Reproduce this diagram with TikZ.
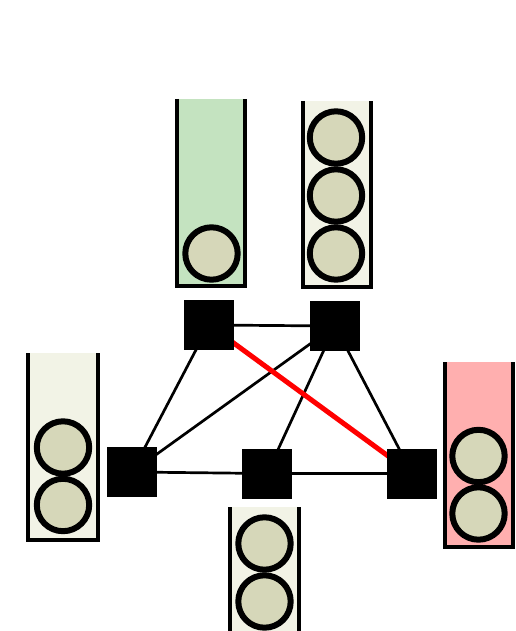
\documentclass[tikz,border=0pt]{standalone}
\usetikzlibrary{backgrounds}
\definecolor{tubegreen}{HTML}{C4E3C0}
\definecolor{tubebeige}{HTML}{F2F3E6}
\definecolor{tubered}{HTML}{FFAFAF}
\definecolor{ballfill}{HTML}{D6D7B9}
\begin{document}
\begin{tikzpicture}[x=1pt,y=-1pt,
  sq/.style={rectangle,fill=black,minimum size=50pt,inner sep=0pt},
  ball/.style={circle,draw=black,fill=ballfill,line width=6pt,minimum size=52.4pt,inner sep=0pt},
  wall/.style={draw=black,line width=4pt},
  edge/.style={black,line width=2.7pt},
  redge/.style={red,line width=5pt}]
\useasboundingbox (0,0) rectangle (515,631);
% tubes
\fill[tubegreen] (177,99) rectangle (245,285.5);
\draw[wall] (177,99) -- (177,285.5) -- (245,285.5) -- (245,99);
\fill[tubebeige] (302.5,101) rectangle (371,287);
\draw[wall] (302.5,101) -- (302.5,287) -- (371,287) -- (371,101);
\fill[tubebeige] (28,353) rectangle (97.5,539.5);
\draw[wall] (28,353) -- (28,539.5) -- (97.5,539.5) -- (97.5,353);
\fill[tubebeige] (230,507) rectangle (299,640);
\draw[wall] (230,507) -- (230,640);
\draw[wall] (299,507) -- (299,640);
\fill[tubered] (444.5,362) rectangle (512.5,547);
\draw[wall] (444.5,362) -- (444.5,547) -- (512.5,547) -- (512.5,362);
% balls
\node[ball] (g1) at (211.5,253.5) {};
\node[ball] (b1) at (336,137.5) {};
\node[ball] (b2) at (336,195.5) {};
\node[ball] (b3) at (336,253.5) {};
\node[ball] (l1) at (63,447.5) {};
\node[ball] (l2) at (63,505) {};
\node[ball] (m1) at (264.5,543.5) {};
\node[ball] (m2) at (264.5,601.5) {};
\node[ball] (r1) at (478.5,456) {};
\node[ball] (r2) at (478.5,513.5) {};
% squares
\node[sq] (A) at (209,325) {};
\node[sq] (B) at (335,326) {};
\node[sq] (C) at (132,472) {};
\node[sq] (D) at (267,473.5) {};
\node[sq] (E) at (412,473.5) {};
\begin{scope}[on background layer]
\draw[edge] (A.center) -- (B.center);
\draw[edge] (A.center) -- (C.center);
\draw[edge] (B.center) -- (C.center);
\draw[edge] (B.center) -- (D.center);
\draw[edge] (B.center) -- (E.center);
\draw[edge] (C.center) -- (D.center);
\draw[edge] (D.center) -- (E.center);
\draw[redge] (A.center) -- (E.center);
\end{scope}
\end{tikzpicture}
\end{document}
